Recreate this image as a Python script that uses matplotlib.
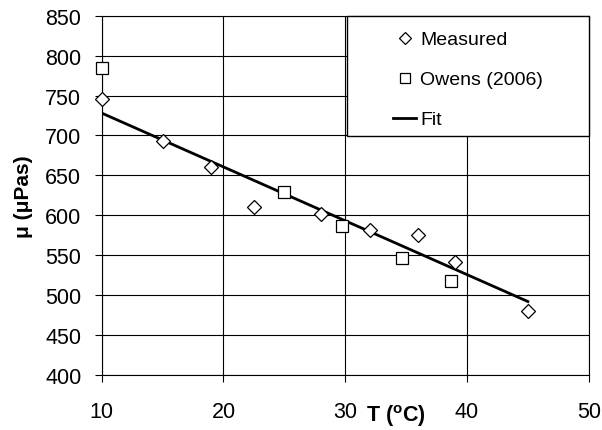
import matplotlib
matplotlib.use("Agg")
import matplotlib.pyplot as plt
from matplotlib.patches import Rectangle

plt.rcParams['font.family'] = ['Liberation Sans', 'DejaVu Sans']
plt.rcParams['mathtext.fontset'] = 'custom'
plt.rcParams['mathtext.rm'] = 'Liberation Sans'
plt.rcParams['mathtext.bf'] = 'Liberation Sans:bold'

# Data
measured_T = [10, 15, 19, 22.5, 28, 32, 36, 39, 45]
measured_mu = [746, 693, 660, 610, 602, 581, 575, 542, 480]
owens_T = [10, 25, 29.7, 34.7, 38.7]
owens_mu = [785, 629, 586, 547, 518]
fit_T = [10, 45]
fit_mu = [728, 492]

x_ticks = [10, 20, 30, 40, 50]
y_ticks = [400, 450, 500, 550, 600, 650, 700, 750, 800, 850]

fig = plt.figure(figsize=(6.02, 4.31), dpi=100)
ax = fig.add_axes([0.169, 0.1276, 0.809, 0.8337])

ax.set_xlim(10, 50)
ax.set_ylim(400, 850)
ax.set_xticks(x_ticks)
ax.set_yticks(y_ticks)
ax.grid(True, color='black', linewidth=0.8, zorder=0)
ax.set_axisbelow(True)
for s in ax.spines.values():
    s.set_color('black')
    s.set_linewidth(0.8)

ax.tick_params(axis='x', direction='out', length=5.3, width=0.8, pad=13.5, labelsize=15.5)
ax.tick_params(axis='y', direction='out', length=5.3, width=0.8, pad=9.4, labelsize=15.5)

l_fit, = ax.plot(fit_T, fit_mu, color='black', linewidth=2.0, zorder=3, label='Fit')
l_meas, = ax.plot(measured_T, measured_mu, linestyle='none', marker='D', markersize=7.0,
                  markerfacecolor='white', markeredgecolor='black', markeredgewidth=0.9,
                  zorder=4, clip_on=False, label='Measured')
l_ow, = ax.plot(owens_T, owens_mu, linestyle='none', marker='s', markersize=8.5,
                markerfacecolor='white', markeredgecolor='black', markeredgewidth=0.9,
                zorder=4, clip_on=False, label='Owens (2006)')

# legend box
rect = Rectangle((0.5043, 0.666), 0.4957, 0.334, transform=ax.transAxes,
                 facecolor='white', edgecolor='black', linewidth=1.0, zorder=5, clip_on=False)
ax.add_patch(rect)
leg = ax.legend([l_meas, l_ow, l_fit], ['Measured', 'Owens (2006)', 'Fit'],
                loc='center', bbox_to_anchor=(0.752, 0.822), frameon=False,
                fontsize=14, handlelength=1.2, handletextpad=0.2, labelspacing=1.15,
                borderpad=0, markerscale=0.85)
leg.set_zorder(6)

ax.set_xlabel(r'T ($\mathbf{^o}$C)', fontsize=15.5, fontweight='bold')
ax.xaxis.set_label_coords(0.604, -0.077)
ax.xaxis.label.set_va('top')
ax.set_ylabel('μ (μPas)', fontsize=15, fontweight='bold')
ax.yaxis.set_label_coords(-0.141, 0.5)

fig.savefig('out.png', dpi=100)
